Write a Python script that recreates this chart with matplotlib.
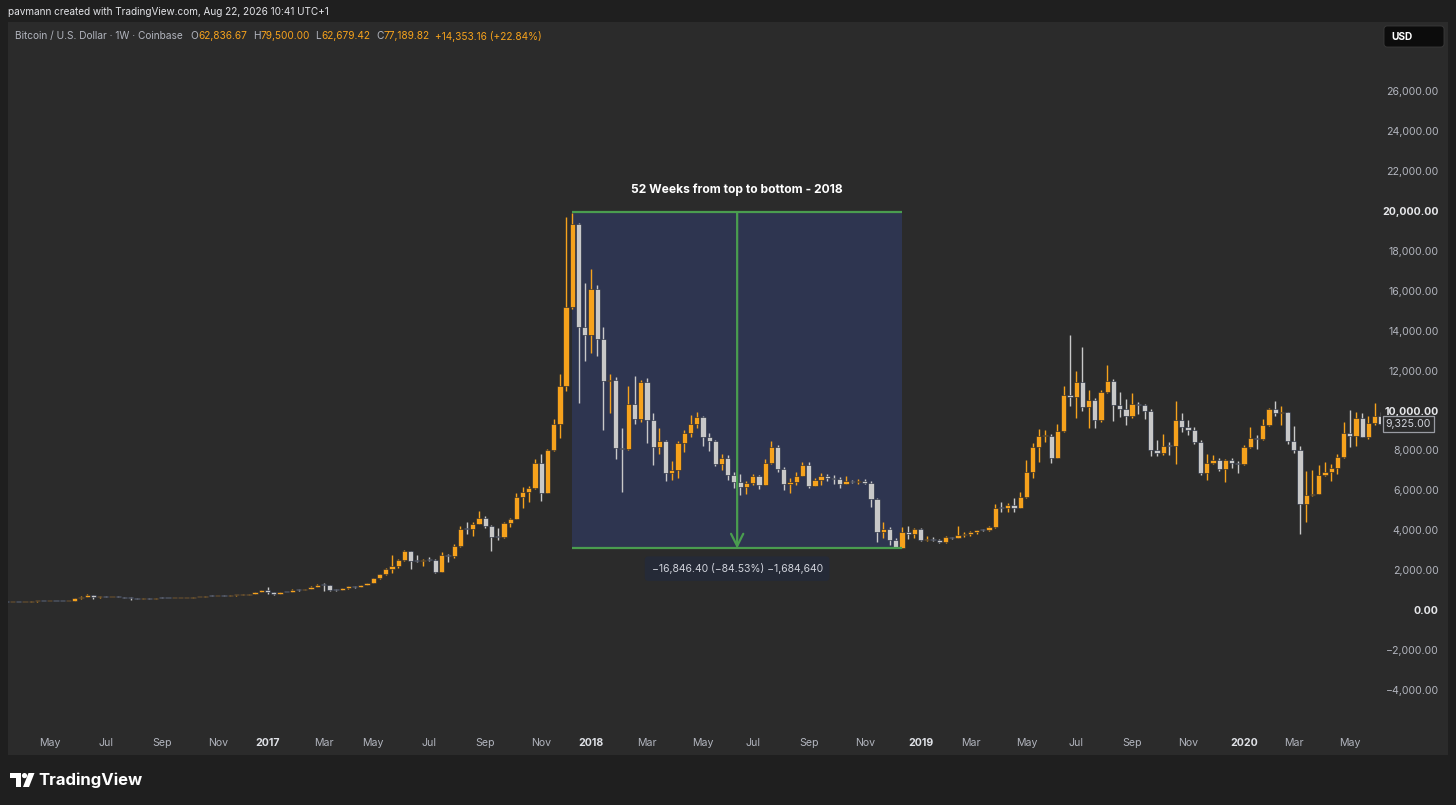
import numpy as np
import pandas as pd
import matplotlib
matplotlib.use("Agg")
import matplotlib.pyplot as plt
import matplotlib.dates as mdates
from matplotlib.patches import Rectangle, FancyBboxPatch, Circle, Polygon
from matplotlib.transforms import Affine2D

plt.rcParams["font.family"] = ["Inter", "DejaVu Sans"]

# weekly BTC/USD candles (Coinbase), first bar = week of 2016-03-14
first_open = 414
close_2016 = [413, 417, 416, 421, 427, 448, 445, 460, 455, 442, 470, 580, 670, 750, 650, 675, 650, 665, 655, 625,
              590, 575, 585, 574, 605, 604, 600, 603, 610, 617, 638, 654, 700, 695, 705, 698, 735, 765, 770, 790,
              890, 1000]
high_2016 = [418, 420, 424, 424, 430, 452, 468, 465, 463, 458, 476, 585, 680, 780, 770, 705, 700, 675, 680, 665,
             630, 600, 595, 595, 612, 632, 612, 610, 613, 620, 642, 660, 710, 740, 720, 752, 745, 775, 780, 795,
             900, 1000]
low_2016 = [405, 409, 412, 415, 418, 425, 440, 440, 450, 436, 440, 462, 575, 665, 540, 620, 630, 645, 645, 610,
            480, 565, 565, 565, 565, 598, 595, 590, 595, 605, 615, 630, 650, 680, 690, 690, 695, 725, 755, 765,
            790, 885]

close_2017 = [900, 820, 920, 915, 1015, 1000, 1050, 1170, 1270, 1230, 1020, 1000, 1080, 1180, 1175, 1250, 1350,
              1580, 1780, 2060, 2200, 2530, 2960, 2470, 2460, 2500, 2490, 1900, 2740, 2730, 3200, 4050, 4040, 4330,
              4600, 4220, 3680, 3640, 4350, 4570, 5680, 5930, 6100, 7370, 5880, 8000, 9330, 11250, 15200, 19350,
              14200, 13800]
high_2017 = [1150, 910, 925, 925, 1030, 1060, 1060, 1200, 1290, 1330, 1260, 1060, 1100, 1210, 1220, 1260, 1360,
             1600, 1800, 2100, 2780, 2570, 2990, 2980, 2780, 2560, 2650, 2540, 2920, 2800, 3300, 4200, 4420, 4400,
             4950, 4700, 4250, 4100, 4400, 4600, 5860, 6180, 6200, 7590, 7840, 8050, 9550, 11830, 19700, 19890,
             19400, 16400]
low_2017 = [810, 750, 815, 880, 910, 930, 990, 1045, 1150, 960, 950, 930, 1000, 1070, 1110, 1165, 1240,
            1340, 1560, 1740, 1850, 2120, 2480, 2050, 2420, 2200, 2450, 1830, 1900, 2400, 2620, 3150, 3800, 3700,
            4300, 4100, 2970, 3500, 3600, 4150, 4560, 5100, 5400, 6050, 5450, 5850, 7950, 8600, 11000, 15100,
            10400, 12500]

close_2018 = [16100, 13600, 11500, 11520, 8100, 8080, 10350, 9560, 11420, 9530, 8190, 8450, 6850, 7030, 8350,
              8870, 9330, 9650, 8680, 8480, 7300, 7620, 6770, 6420, 6150, 6380, 6700, 6280, 7380, 8180, 7050,
              6300, 6420, 6700, 7280, 6230, 6500, 6700, 6620, 6580, 6310, 6450, 6420, 6450, 6370, 5550, 3920,
              4050, 3500, 3130, 3920, 3830, 4040]
high_2018 = [17100, 16300, 14200, 11850, 11700, 9100, 11250, 11750, 11520, 11650, 9900, 9100, 8500, 7480, 8450,
             9040, 9750, 9950, 9700, 8870, 8500, 7800, 7750, 6900, 6800, 6450, 6800, 6780, 7580, 8490, 8250,
             7150, 6620, 6900, 7400, 7400, 6600, 6880, 6800, 6750, 6680, 6740, 6520, 6550, 6550, 6480, 5620,
             4420, 4150, 3600, 4140, 4200, 4100]
low_2018 = [12900, 12750, 9000, 9900, 7550, 5900, 8000, 9300, 9400, 8350, 7250, 7800, 6450, 6500, 6620,
            7900, 8650, 9100, 8200, 7950, 7200, 7000, 6500, 6100, 5760, 5800, 6250, 6070, 6250, 7300, 6900,
            6000, 5880, 6250, 6700, 6120, 6200, 6250, 6450, 6330, 6130, 6300, 6370, 6300, 6330, 5170, 3420,
            3600, 3250, 3100, 3150, 3550, 3600]

close_2019 = [3500, 3540, 3530, 3410, 3650, 3610, 3770, 3830, 3930, 4000, 3990, 4140, 5130, 5120, 5260, 5110,
              5680, 6940, 8180, 8700, 8740, 7620, 8950, 10800, 10700, 11430, 10200, 10530, 9500, 10950, 11500,
              10280, 10100, 9700, 10330, 10270, 10000, 8000, 7850, 8220, 8200, 9500, 9170, 9000, 8420, 6870,
              7370, 7500, 7050, 7500, 7350, 7300]
high_2019 = [4120, 3720, 3640, 3560, 3700, 3680, 4200, 3900, 3950, 4030, 4060, 4200, 5300, 5420, 5360, 5630,
             5900, 7530, 8350, 9050, 9030, 8800, 9330, 11250, 13800, 12000, 13200, 11050, 10650, 11050, 12280,
             11600, 10920, 10600, 10900, 10420, 10330, 10100, 8500, 8800, 8420, 10500, 9880, 9530, 9150, 8500,
             7830, 7750, 7620, 7550, 7620, 7450]
low_2019 = [3450, 3480, 3480, 3380, 3340, 3580, 3600, 3650, 3700, 3810, 3940, 3950, 4100, 4920, 4930, 4930,
            5100, 5600, 6600, 7420, 8400, 7370, 7600, 8900, 10250, 9630, 10000, 9100, 9100, 9400, 10900,
            9450, 9670, 9280, 9600, 9830, 9580, 7700, 7700, 7750, 7750, 7300, 8920, 8750, 8300, 6750,
            6530, 7300, 6970, 6430, 7130, 6850]

close_2020 = [8170, 8630, 8550, 9250, 10080, 9880, 9920, 8450, 8000, 5300, 5750, 5830, 6750, 6900, 7100, 7650,
              8870, 8720, 9620, 8680, 9380, 9700, 9325]
high_2020 = [8250, 9170, 8750, 9550, 10150, 10470, 10250, 9950, 9200, 8200, 6970, 7000, 7250, 7400, 7300, 7800,
             9420, 10030, 9950, 9880, 9720, 10370, 9950]
low_2020 = [7250, 8100, 8080, 8500, 9200, 9700, 9250, 8300, 7850, 3830, 4420, 5700, 5850, 6700, 6450, 6800,
            7620, 8170, 8200, 8650, 8580, 9250, 9250]

close = close_2016 + close_2017 + close_2018 + close_2019 + close_2020
high = high_2016 + high_2017 + high_2018 + high_2019 + high_2020
low = low_2016 + low_2017 + low_2018 + low_2019 + low_2020
last_price = 9325

# measure tool drawn on the chart
box_start, box_end = "2017-12-11", "2018-12-17"
box_top, box_bottom = 19929.5, 3083.1
box_title = "52 Weeks from top to bottom - 2018"
box_label = "\u221216,846.40 (\u221284.53%) \u22121,684,640"

tick_dates = ["2016-05-02", "2016-07-04", "2016-09-05", "2016-11-07", "2017-01-02", "2017-03-06", "2017-05-01",
              "2017-07-03", "2017-09-04", "2017-11-06", "2018-01-01", "2018-03-05", "2018-05-07", "2018-07-02",
              "2018-09-03", "2018-11-05", "2019-01-07", "2019-03-04", "2019-05-06", "2019-07-01", "2019-09-02",
              "2019-11-04", "2020-01-06", "2020-03-02", "2020-05-04"]
tick_labels = ["May", "Jul", "Sep", "Nov", "2017", "Mar", "May", "Jul", "Sep", "Nov", "2018", "Mar", "May",
               "Jul", "Sep", "Nov", "2019", "Mar", "May", "Jul", "Sep", "Nov", "2020", "Mar", "May"]
price_ticks = list(range(-4000, 26001, 2000))

header = "pavmann created with TradingView.com, Aug 22, 2026 10:41 UTC+1"
legend_name = "Bitcoin / U.S. Dollar \u00b7 1W \u00b7 Coinbase"
legend_ohlc = [("O", "62,836.67"), ("H", "79,500.00"), ("L", "62,679.42"), ("C", "77,189.82")]
legend_change = "+14,353.16 (+22.84%)"

# colours
OUTER = "#1f1f1f"
PANEL = "#2b2b2b"
UP = "#f6a21c"
DOWN = "#c8c8c8"
GREEN = "#4a9d4f"
TEXT = "#b2b5be"

W, H = 1456, 805
fig = plt.figure(figsize=(W / 100, H / 100), dpi=100, facecolor=OUTER)
pix = Affine2D().scale(1 / W, -1 / H).translate(0, 1) + fig.transFigure

# chart panel (behind the axes)
fig.patches.append(Rectangle((8, 22), 1440, 733, transform=pix, facecolor=PANEL, edgecolor="none", zorder=-5))

ax = fig.add_axes([8 / W, 1 - 732 / H, (1381 - 8) / W, (732 - 22) / H])
ax.set_facecolor(PANEL)
for s in ax.spines.values():
    s.set_visible(False)

dates = pd.date_range("2016-03-14", periods=len(close), freq="7D")
x = mdates.date2num(dates)
o = np.array([first_open] + close[:-1], dtype=float)
c = np.array(close, dtype=float)
hi = np.maximum(np.array(high, dtype=float), np.maximum(o, c))
lo = np.minimum(np.array(low, dtype=float), np.minimum(o, c))
up = c >= o
cols = np.where(up, UP, DOWN)

# measure box background
x0 = mdates.date2num(pd.Timestamp(box_start))
x1 = mdates.date2num(pd.Timestamp(box_end))
xm = (x0 + x1) / 2
ax.add_patch(Rectangle((x0, box_bottom), x1 - x0, box_top - box_bottom, facecolor="#2e3550",
                       edgecolor="none", zorder=1))

# candles
ax.vlines(x, lo, hi, colors=cols, linewidth=1.0, zorder=2)
body = np.maximum(np.abs(c - o), 50)
ax.bar(x, body, bottom=np.minimum(o, c), width=5.9, color=cols, edgecolor="#1b2336", linewidth=0.4,
       zorder=3)

# measure lines, arrow and texts
ax.hlines([box_top, box_bottom], x0, x1, colors=GREEN, linewidth=1.6, zorder=4)
ax.annotate("", xy=(xm, box_bottom), xytext=(xm, box_top),
            arrowprops=dict(arrowstyle="->", color=GREEN, lw=1.6, mutation_scale=22, shrinkA=0, shrinkB=0),
            zorder=4)
ax.annotate(box_title, xy=(xm, box_top), xytext=(0, 16), textcoords="offset points", ha="center", va="center",
            color="white", fontsize=8.7, fontweight="bold")
ax.annotate(box_label, xy=(xm, box_bottom), xytext=(0, -14.5), textcoords="offset points", ha="center",
            va="center", color="#d1d4dc", fontsize=7.5,
            bbox=dict(boxstyle="round,pad=0.65,rounding_size=0.35", fc="#252a37", ec="none"))

# scales
t0 = mdates.date2num(pd.Timestamp("2018-01-01"))
ax.set_xlim(t0 - 656.1, t0 + 889.1)
ax.set_ylim(-6115, 29474)

ax.set_xticks(mdates.date2num(pd.to_datetime(tick_dates)))
ax.set_xticklabels(tick_labels)
ax.tick_params(axis="x", length=0, pad=4.5, labelsize=7.6, colors=TEXT)
for lbl in ax.get_xticklabels():
    if lbl.get_text().isdigit():
        lbl.set_fontweight("bold")
        lbl.set_color("#dfe1e6")

ax.yaxis.tick_right()
ax.set_yticks(price_ticks)
ax.set_yticklabels([f"{v:,.2f}".replace("-", "\u2212") for v in price_ticks])
ax.tick_params(axis="y", length=0, pad=41.5, labelsize=7.6, colors=TEXT)
for v, tick in zip(price_ticks, ax.yaxis.get_major_ticks()):
    tick.label2.set_horizontalalignment("right")
    if v % 10000 == 0:
        tick.label2.set_fontweight("bold")
        tick.label2.set_color("#e6e7ea")

ax.annotate(f"{last_price:,.2f}", xy=(1, last_price), xycoords=("axes fraction", "data"), xytext=(19.8, 0),
            textcoords="offset points", ha="center", va="center", color="#d1d4dc", fontsize=7.6,
            annotation_clip=False,
            bbox=dict(boxstyle="square,pad=0.25", fc=PANEL, ec="#9a9ca3", lw=0.9))

# header and legend
fig.text(8 / W, 1 - 12 / H, header, color="#e3e4e8", fontsize=7.2, ha="left", va="center")
fig.canvas.draw()
rend = fig.canvas.get_renderer()
ly = 1 - 36 / H
fig.text(15 / W, ly, legend_name, color=TEXT, fontsize=7.3, ha="left", va="center")
for (letter, val), lx in zip(legend_ohlc, [190.5, 253.5, 315.5, 376]):
    t = fig.text(lx / W, ly, letter, color=TEXT, fontsize=7.3, ha="left", va="center")
    bb = t.get_window_extent(renderer=rend)
    fig.text(bb.x1 / W, ly, val, color=UP, fontsize=7.3, ha="left", va="center")
fig.text(435 / W, ly, legend_change, color=UP, fontsize=7.3, ha="left", va="center")

# currency button
fig.patches.append(FancyBboxPatch((1384, 26), 60, 21, boxstyle="round,pad=0,rounding_size=3", transform=pix,
                                  facecolor="#0c0c0c", edgecolor="#3b3b3b", linewidth=0.6, zorder=1))
fig.text(1391 / W, 1 - 36.5 / H, "USD", color="white", fontsize=7.3, fontweight="bold", ha="left", va="center")

# footer logo
fig.patches.append(Polygon([(10, 773), (21, 773), (21, 787), (16, 787), (16, 778), (10, 778)], closed=True,
                           transform=pix, facecolor="white", edgecolor="none"))
fig.patches.append(Circle((24.5, 775.6), 2.6, transform=pix, facecolor="white", edgecolor="none"))
fig.patches.append(Polygon([(28.5, 773), (34.5, 773), (29, 787), (23, 787)], closed=True, transform=pix,
                           facecolor="white", edgecolor="none"))
fig.text(38 / W, 1 - 780 / H, "TradingView", color="white", fontsize=12, fontweight="bold", ha="left",
         va="center")

fig.savefig("out.png", dpi=100, facecolor=OUTER)
